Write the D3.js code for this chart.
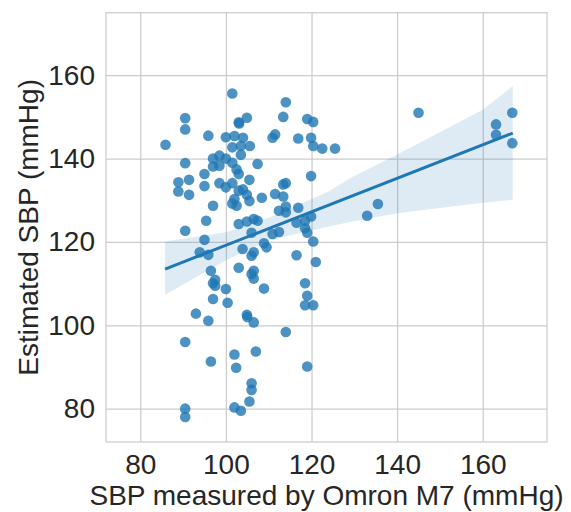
<!DOCTYPE html>
<html>
<head>
<meta charset="utf-8">
<script src="https://cdn.jsdelivr.net/npm/d3@7"></script>
<style>
  body { margin: 0; background: #fff; }
  text { font-family: "Liberation Sans", Arial, sans-serif; fill: #262626; }
</style>
</head>
<body>
<div id="chart"></div>
<script>
const omron = [
  101.5, 114.0, 90.5, 90.5, 104.9, 103.0, 103.1, 113.4, 119.0, 120.4,
  85.9, 95.9, 100.0, 102.0, 104.0, 101.5, 103.5, 105.6, 103.5, 110.9,
  111.5, 116.9, 119.9, 120.4, 122.5, 125.5, 90.5, 97.0, 98.5, 100.0,
  97.0, 98.5, 101.5, 102.5, 103.0, 107.4, 105.5, 88.9, 88.9, 91.4,
  91.4, 95.0, 95.0, 98.5, 100.0, 101.5, 103.0, 104.0, 104.9, 105.5,
  102.0, 101.5, 102.5, 97.0, 108.4, 111.5, 113.4, 114.0, 113.4, 119.9,
  116.9, 114.0, 112.4, 114.0, 95.4, 103.0, 104.9, 106.5, 107.4, 116.5,
  119.9, 118.5, 90.5, 95.0, 93.9, 95.9, 96.5, 97.5, 97.0, 97.5,
  100.0, 97.0, 100.4, 93.0, 95.9, 106.0, 103.9, 106.5, 106.0, 103.0,
  106.5, 106.0, 106.5, 108.9, 109.5, 108.9, 110.9, 112.4, 118.5, 119.0,
  120.4, 116.5, 121.0, 118.5, 119.0, 118.5, 120.4, 104.9, 105.0, 106.5,
  114.0, 90.5, 96.5, 102.0, 107.0, 102.4, 119.0, 106.0, 106.0, 105.5,
  102.0, 103.5, 90.5, 90.5, 145.0, 163.1, 163.1, 166.9, 166.9, 135.5,
  133.0
];
const estimated = [
  155.6, 153.5, 149.7, 147.0, 149.8, 148.7, 148.4, 150.0, 149.5, 148.8,
  143.3, 145.5, 145.1, 145.4, 145.0, 142.7, 143.0, 143.0, 140.9, 145.0,
  145.8, 144.8, 145.0, 143.0, 142.4, 142.4, 138.9, 140.0, 140.7, 140.0,
  138.1, 138.3, 139.0, 137.4, 136.3, 138.7, 134.9, 134.3, 132.1, 134.9,
  131.3, 136.3, 133.4, 134.1, 133.1, 134.1, 132.3, 132.6, 131.3, 129.8,
  130.3, 129.2, 128.7, 128.7, 130.6, 131.5, 133.8, 134.1, 130.9, 135.8,
  128.2, 128.5, 127.5, 127.1, 125.1, 124.3, 124.9, 125.5, 125.1, 124.6,
  126.1, 125.1, 122.7, 120.5, 117.5, 116.9, 113.1, 110.9, 110.1, 109.5,
  108.7, 106.3, 105.4, 102.8, 101.1, 122.2, 118.3, 117.5, 116.7, 113.8,
  113.1, 112.3, 111.2, 119.7, 118.7, 108.8, 121.9, 122.4, 123.3, 122.2,
  120.1, 116.8, 115.2, 110.1, 107.1, 104.8, 104.8, 102.5, 102.0, 100.7,
  98.4, 96.0, 91.3, 93.0, 93.7, 89.8, 90.1, 86.1, 84.5, 81.7,
  80.3, 79.5, 80.0, 78.0, 151.0, 148.2, 145.7, 151.0, 143.7, 129.1,
  126.3
];

// regression line and its confidence band, as drawn in the picture
const fitX = [85.8, 167.0];
const fitY = [113.5, 146.1];
const bandX = [85.8, 100, 110, 124, 129, 140, 160, 167.0];
const bandHi = [120.1, 122.3, 125.8, 132.1, 135.3, 141.0, 151.7, 157.4];
const bandLo = [107.3, 115.6, 120.4, 123.7, 124.8, 126.9, 129.4, 130.1];

const xTicks = [80, 100, 120, 140, 160];
const yTicks = [80, 100, 120, 140, 160];

const width = 571, height = 512;
const margin = { top: 12.7, right: 24, bottom: 70, left: 106 };
const w = width - margin.left - margin.right;
const h = height - margin.top - margin.bottom;
const blue = '#1f77b4';
const fontSize = '28px';

const svg = d3.select('#chart').append('svg')
  .attr('width', width).attr('height', height);
const g = svg.append('g').attr('transform', `translate(${margin.left},${margin.top})`);

const x = d3.scaleLinear().domain([72, 175]).range([0, w]);
const y = d3.scaleLinear().domain([72, 175]).range([h, 0]);

// grid + tick labels
const gx = g.append('g').attr('transform', `translate(0,${h})`)
  .call(d3.axisBottom(x).tickValues(xTicks).tickSize(-h).tickPadding(12));
const gy = g.append('g')
  .call(d3.axisLeft(y).tickValues(yTicks).tickSize(-w).tickPadding(11));
[gx, gy].forEach(ax => {
  ax.select('.domain').remove();
  ax.selectAll('line').attr('stroke', '#cccccc').attr('stroke-width', 1.25);
  ax.selectAll('text').style('font-size', fontSize).attr('fill', '#262626')
    .style('font-family', '"Liberation Sans", Arial, sans-serif');
});

// frame
g.append('rect').attr('width', w).attr('height', h)
  .attr('fill', 'none').attr('stroke', '#cccccc').attr('stroke-width', 1.25);

const band = bandX.map((v, i) => ({ x: v, lo: bandLo[i], hi: bandHi[i] }));
g.append('path').datum(band)
  .attr('fill', blue).attr('fill-opacity', 0.15)
  .attr('d', d3.area().x(d => x(d.x)).y0(d => y(d.lo)).y1(d => y(d.hi)));

const data = omron.map((v, i) => ({ x: v, y: estimated[i] }));
g.selectAll('circle').data(data).enter().append('circle')
  .attr('cx', d => x(d.x)).attr('cy', d => y(d.y)).attr('r', 5.3)
  .attr('fill', blue).attr('fill-opacity', 0.8);

const fit = fitX.map((v, i) => ({ x: v, y: fitY[i] }));
g.append('path').datum(fit)
  .attr('fill', 'none').attr('stroke', blue).attr('stroke-width', 3)
  .attr('d', d3.line().x(d => x(d.x)).y(d => y(d.y)));

// axis titles
svg.append('text')
  .attr('x', margin.left + w / 2).attr('y', 505)
  .attr('text-anchor', 'middle').style('font-size', fontSize)
  .text('SBP measured by Omron M7 (mmHg)');
svg.append('text')
  .attr('transform', `translate(38,${margin.top + h / 2}) rotate(-90)`)
  .attr('text-anchor', 'middle').style('font-size', fontSize)
  .text('Estimated SBP (mmHg)');
</script>
</body>
</html>
